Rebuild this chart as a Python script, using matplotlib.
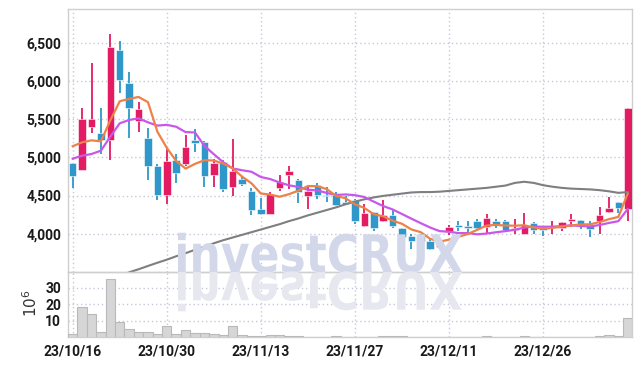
import os
import numpy as np
import matplotlib
matplotlib.use('Agg')
import matplotlib.pyplot as plt
from matplotlib.textpath import TextPath
from matplotlib.patches import PathPatch
from matplotlib.font_manager import FontProperties
from matplotlib.transforms import Affine2D
from matplotlib.ticker import FuncFormatter

# daily candles, 60 trading days from 23/10/16
opens = [4925, 4840, 5400, 5320, 5220, 6400, 5970, 5480, 5250, 4890,
         4510, 4960, 4910, 5230, 5200, 4770, 4940, 4610, 4710, 4560,
         4320, 4260, 4600, 4770, 4700, 4490, 4640, 4510, 4505, 4420,
         4440, 4105, 4280, 4160, 4240, 4070, 3970, 3970, 3905, 3820,
         4020, 4115, 4100, 4160, 4085, 4165, 4170, 4050, 4000, 4140,
         4085, 4090, 4070, 4160, 4175, 4120, 4160, 4290, 4410, 4320]
closes = [4760, 5500, 5500, 5220, 6440, 6010, 5650, 5630, 4880, 4510,
          4950, 4790, 5130, 5190, 4750, 4930, 4590, 4820, 4650, 4310,
          4260, 4520, 4680, 4820, 4540, 4560, 4510, 4490, 4375, 4385,
          4165, 4270, 4080, 4240, 4100, 3960, 3900, 3900, 3805, 3920,
          4085, 4090, 4080, 4080, 4200, 4125, 4050, 4070, 4110, 4050,
          4050, 4100, 4150, 4190, 4115, 4060, 4245, 4340, 4340, 5640]
highs = [4930, 5650, 6230, 5650, 6610, 6520, 6110, 5720, 5380, 4910,
         5110, 5040, 5290, 5370, 5210, 4980, 4960, 5240, 4750, 4600,
         4470, 4540, 4770, 4890, 4720, 4620, 4660, 4615, 4540, 4490,
         4450, 4385, 4290, 4440, 4310, 4080, 4000, 4000, 3930, 3930,
         4110, 4170, 4165, 4190, 4255, 4190, 4180, 4190, 4265, 4150,
         4100, 4160, 4150, 4255, 4180, 4160, 4355, 4475, 4410, 5650]
lows = [4600, 4840, 5320, 5040, 4960, 5840, 5250, 5330, 4700, 4440,
        4390, 4660, 4880, 5070, 4610, 4610, 4550, 4500, 4620, 4250,
        4250, 4260, 4555, 4580, 4400, 4320, 4450, 4420, 4360, 4380,
        4130, 4090, 4030, 4150, 4070, 3950, 3800, 3775, 3790, 3815,
        3980, 4030, 3980, 4050, 4015, 4070, 4040, 4000, 4000, 4000,
        3970, 4000, 4030, 4085, 4060, 3960, 3995, 4270, 4270, 4160]
volumes = [2.4, 18.2, 13.9, 3.6, 35.5, 9.2, 5.4, 3.1, 3.1, 2.4,
           6.7, 1.9, 4.8, 2.5, 3.0, 2.4, 1.3, 6.7, 1.2, 0.8,
           0.6, 1.3, 1.3, 0.8, 0.6, 0.5, 0.5, 0.5, 0.6, 0.5,
           0.5, 0.5, 0.5, 1.1, 0.6, 0.8, 0.5, 0.4, 0.4, 0.4,
           0.3, 0.3, 0.3, 0.3, 0.8, 0.3, 0.3, 0.3, 0.7, 0.3,
           0.3, 0.3, 0.3, 0.3, 0.3, 0.3, 1.0, 1.5, 0.9, 11.5]
ma5 = [5145, 5196, 5222, 5209, 5484, 5734, 5764, 5790, 5722, 5336,
       5124, 4952, 4852, 4914, 4962, 4958, 4918, 4856, 4748, 4660,
       4526, 4512, 4484, 4518, 4564, 4624, 4622, 4584, 4495, 4464,
       4385, 4337, 4255, 4228, 4171, 4130, 4056, 4020, 3933, 3897,
       3922, 3960, 3996, 4051, 4107, 4115, 4107, 4105, 4111, 4081,
       4066, 4076, 4092, 4108, 4121, 4123, 4152, 4190, 4220, 4525]
ma10 = [4982, 5021, 5043, 5087, 5270, 5445, 5488, 5510, 5458, 5415,
        5425, 5400, 5330, 5325, 5150, 5041, 4935, 4854, 4831, 4811,
        4742, 4715, 4670, 4633, 4612, 4575, 4567, 4534, 4507, 4514,
        4505, 4480, 4420, 4362, 4318, 4258, 4197, 4138, 4081, 4034,
        4026, 4008, 4008, 3992, 4002, 4019, 4034, 4051, 4081, 4094,
        4091, 4092, 4099, 4110, 4101, 4095, 4114, 4141, 4164, 4323]
ma60 = [3190, 3240, 3290, 3340, 3390, 3440, 3495, 3535, 3578, 3620,
        3660, 3705, 3745, 3790, 3830, 3875, 3915, 3950, 3985, 4020,
        4055, 4090, 4125, 4165, 4200, 4240, 4275, 4310, 4345, 4385,
        4420, 4450, 4475, 4495, 4510, 4525, 4540, 4545, 4545, 4550,
        4560, 4570, 4580, 4590, 4600, 4615, 4630, 4665, 4680, 4665,
        4635, 4615, 4600, 4590, 4585, 4580, 4570, 4555, 4535, 4545]
tick_pos = [0, 10, 20, 30, 40, 50]
tick_labels = ['23/10/16', '23/10/30', '23/11/13', '23/11/27', '23/12/11', '23/12/26']

UP = '#e31b63'
DOWN = '#2f97c9'
GRID = '#c6c8dc'
SPINE = '#cfcfcf'

plt.rcParams['font.family'] = ['Roboto', 'DejaVu Sans']

fig = plt.figure(figsize=(6.42, 3.66), dpi=100)
ax = fig.add_axes([0.1059, 0.256, 0.8785, 0.7186])
axv = fig.add_axes([0.1059, 0.0779, 0.8785, 0.1781], sharex=ax)

x = np.arange(len(closes))
o = np.array(opens)
c = np.array(closes)
colors = [UP if cc >= oo else DOWN for oo, cc in zip(o, c)]

# watermark with mirrored reflection (bundled upright bold font)
fp = FontProperties(fname=os.path.join(matplotlib.get_data_path(), 'fonts', 'ttf', 'DejaVuSans-Bold.ttf'))
tp = TextPath((0, 0), 'investCRUX', size=1, prop=fp)
bb = tp.get_extents()
sx = 284 / bb.width
sy = 40 / bb.height
W, H = 642, 366
base = H - 272
t_main = Affine2D().translate(-bb.x0, 0).scale(sx / W, sy / H).translate(178 / W, base / H)
t_refl = Affine2D().translate(-bb.x0, 0).scale(sx / W, -sy / H).translate(178 / W, base / H)
fig.patches.append(PathPatch(t_main.transform_path(tp), transform=fig.transFigure,
                             facecolor='#d3d7ea', edgecolor='none', zorder=0.5))
fig.patches.append(PathPatch(t_refl.transform_path(tp), transform=fig.transFigure,
                             facecolor='#e6e7ef', edgecolor='none', zorder=0.5))
ax.patch.set_alpha(0)
axv.patch.set_alpha(0)

# candles
ax.vlines(x, lows, highs, colors=colors, linewidth=1.3, zorder=3)
heights = np.maximum(np.abs(c - o), 12)
ax.bar(x, heights, bottom=np.minimum(o, c), width=0.8, color=colors,
       edgecolor='white', linewidth=0.4, zorder=4)

ax.plot(x, ma60, color='#7f7f7f', linewidth=1.5, zorder=5)
ax.plot(x, ma10, color='#c957ea', linewidth=1.6, zorder=5)
ax.plot(x, ma5, color='#ee8148', linewidth=1.6, zorder=6)

ax.set_ylim(3495, 6937)
ax.set_yticks([4000, 4500, 5000, 5500, 6000, 6500])
ax.yaxis.set_major_formatter(FuncFormatter(lambda v, p: f'{int(v):,}'))
ax.set_xlim(-0.5, 59.45)

axv.bar(x, volumes, width=1.0, color='#d6d6d6', edgecolor='#b9b9b9', linewidth=0.8, zorder=3)
axv.set_ylim(0, 39.3)
axv.set_yticks([10, 20, 30])
axv.set_ylabel(r'$10^6$', fontsize=11, color='#333333')
axv.yaxis.set_label_coords(-0.05, 0.52)
axv.set_xticks(tick_pos)
axv.set_xticklabels(tick_labels)

for a in (ax, axv):
    a.grid(True, color=GRID, linestyle=(0, (1, 2)), linewidth=1.0, zorder=1)
    for s in a.spines.values():
        s.set_color(SPINE)
        s.set_linewidth(1.0)
    a.tick_params(length=0, pad=5, labelsize=10, labelcolor='#1a1a1a')
    a.set_axisbelow(True)
ax.tick_params(axis='x', labelbottom=False)
for lbl in ax.get_yticklabels() + axv.get_yticklabels() + axv.get_xticklabels():
    lbl.set_fontweight('bold')

fig.savefig('out.png', dpi=100)
